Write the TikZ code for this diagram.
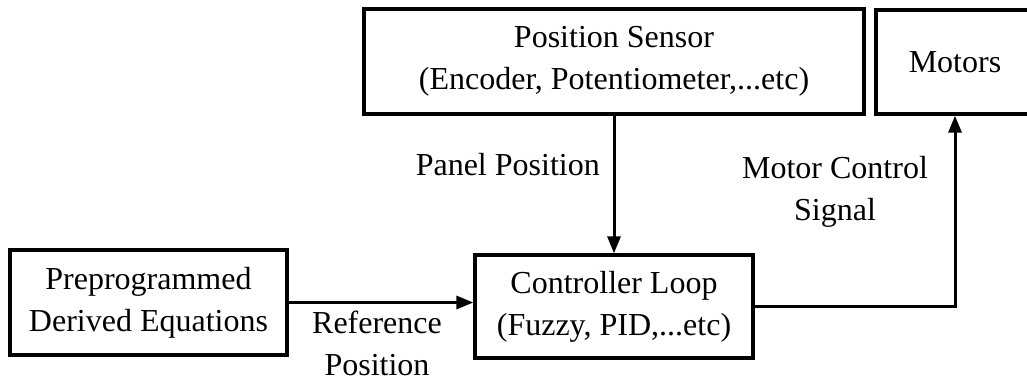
\documentclass[tikz,border=0pt]{standalone}
\usepackage{fontspec}
\setmainfont{Liberation Serif}
\usetikzlibrary{arrows.meta}
\begin{document}
\begin{tikzpicture}[x=1pt,y=-1pt,
  box/.style={draw, line width=3.3pt, align=center, inner sep=0pt, font=\fontsize{32}{42}\selectfont},
  lbl/.style={align=center, inner sep=0pt, font=\fontsize{32}{42}\selectfont},
  arr/.style={line width=3pt, -{Triangle[length=17pt,width=13pt]}}]
\useasboundingbox (0,0) rectangle (1027,381);
\node[box, minimum width=500pt, minimum height=105pt] (sensor) at (614,61.5) {Position Sensor\\(Encoder, Potentiometer,...etc)};
\node[box, minimum width=158pt, minimum height=104pt] (motors) at (955,62) {Motors};
\node[box, minimum width=278pt, minimum height=103pt] (ctrl) at (614,306.5) {Controller Loop\\(Fuzzy, PID,...etc)};
\node[box, minimum width=277pt, minimum height=105pt] (prep) at (148.5,302.5) {Preprogrammed\\Derived Equations};
\draw[arr] (sensor.south) -- (ctrl.north);
\draw[arr] (prep.east) -- (prep.east -| ctrl.west);
\draw[arr] (ctrl.east) -| (motors.south);
\node[lbl, anchor=east] (panel) at (600,165) {Panel Position};
\node[lbl] (mcs) at (835,192) {Motor Control\\Signal};
\node[lbl] (refpos) at (377,343) {Reference\\Position};
\end{tikzpicture}
\end{document}
